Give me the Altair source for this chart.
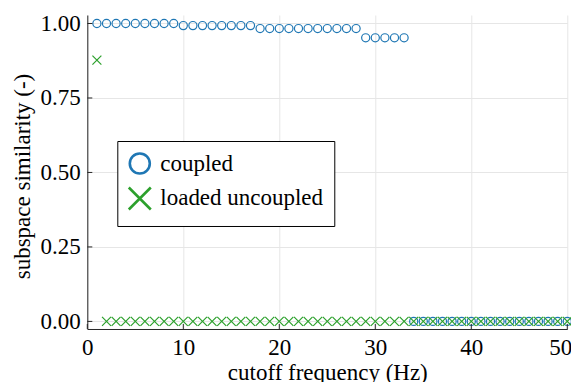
import altair as alt
import pandas as pd

series_names = ["coupled", "loaded uncoupled"]
series_colors = ["#1f77b4", "#2ca02c"]

coupled_freq = [1, 2, 3, 4, 5, 6, 7, 8, 9, 10, 11, 12, 13, 14, 15, 16, 17,
                18, 19, 20, 21, 22, 23, 24, 25, 26, 27, 28, 29, 30, 31, 32, 33,
                34, 35, 36, 37, 38, 39, 40, 41, 42, 43, 44, 45, 46, 47, 48, 49, 50]
coupled_sim = [1.000, 1.000, 1.000, 1.000, 1.000, 1.000, 1.000, 1.000, 1.000,
               0.993, 0.993, 0.993, 0.993, 0.993, 0.993, 0.993, 0.993,
               0.983, 0.983, 0.983, 0.983, 0.983, 0.983, 0.983, 0.983, 0.983, 0.983, 0.983,
               0.952, 0.952, 0.952, 0.952, 0.952,
               0.0, 0.0, 0.0, 0.0, 0.0, 0.0, 0.0, 0.0, 0.0, 0.0, 0.0, 0.0, 0.0, 0.0, 0.0, 0.0, 0.0]

uncoupled_freq = [1, 2, 3, 4, 5, 6, 7, 8, 9, 10, 11, 12, 13, 14, 15, 16, 17,
                  18, 19, 20, 21, 22, 23, 24, 25, 26, 27, 28, 29, 30, 31, 32, 33,
                  34, 35, 36, 37, 38, 39, 40, 41, 42, 43, 44, 45, 46, 47, 48, 49, 50]
uncoupled_sim = [0.877,
                 0.0, 0.0, 0.0, 0.0, 0.0, 0.0, 0.0, 0.0, 0.0, 0.0, 0.0, 0.0, 0.0, 0.0, 0.0, 0.0,
                 0.0, 0.0, 0.0, 0.0, 0.0, 0.0, 0.0, 0.0, 0.0, 0.0, 0.0, 0.0, 0.0, 0.0, 0.0, 0.0,
                 0.0, 0.0, 0.0, 0.0, 0.0, 0.0, 0.0, 0.0, 0.0, 0.0, 0.0, 0.0, 0.0, 0.0, 0.0, 0.0, 0.0]

x_ticks = [0, 10, 20, 30, 40, 50]
y_ticks = [0.0, 0.25, 0.5, 0.75, 1.0]

df = pd.concat([
    pd.DataFrame({"freq": coupled_freq, "sim": coupled_sim, "series": series_names[0]}),
    pd.DataFrame({"freq": uncoupled_freq, "sim": uncoupled_sim, "series": series_names[1]}),
], ignore_index=True)

FONT = "Liberation Serif, Times New Roman, DejaVu Serif, serif"
FS = 23
W, H = 480, 314
X_PATH = "M-1.1,-1.1L1.1,1.1M-1.1,1.1L1.1,-1.1"
DARK = "#262626"

xscale = alt.Scale(domain=[0, 50], nice=False, zero=False)
yscale = alt.Scale(domain=[-0.0255, 1.0285], nice=False, zero=False)

legend = alt.Legend(
    orient="none", legendX=30, legendY=126, title=None,
    padding=11, strokeColor="black", fillColor="white",
    symbolSize=400, symbolStrokeWidth=2.6, labelFont=FONT, labelFontSize=FS,
    labelColor="black", labelOffset=9, rowPadding=3, labelLimit=500,
)

points = alt.Chart(df).mark_point(filled=False, size=66, strokeWidth=1.2, opacity=1).encode(
    x=alt.X("freq:Q", scale=xscale, axis=alt.Axis(
        values=x_ticks, format="d", title="cutoff frequency (Hz)",
        tickSize=0, labelPadding=8, labelFlush=False, labelOverlap=False,
        labelOffset={"condition": {"test": "datum.value == 50", "value": -7}, "value": 0},
        titleY=50.7, titleBaseline="alphabetic")),
    y=alt.Y("sim:Q", scale=yscale, axis=alt.Axis(
        values=y_ticks, format=".2f", title="subspace similarity (-)",
        tickSize=0, labelPadding=7, labelFlush=False, labelOverlap=False,
        titleAngle=270, titleAlign="center", titleBaseline="alphabetic",
        titleX=-58, titleY=161)),
    color=alt.Color("series:N", scale=alt.Scale(domain=series_names, range=series_colors), legend=legend),
    shape=alt.Shape("series:N", scale=alt.Scale(domain=series_names, range=["circle", X_PATH]), legend=legend),
)

xt = alt.Chart(pd.DataFrame({"freq": x_ticks})).mark_rule(color=DARK, strokeWidth=1).encode(
    x=alt.X("freq:Q", scale=xscale), y=alt.value(H), y2=alt.value(H - 5))
yt = alt.Chart(pd.DataFrame({"sim": y_ticks})).mark_rule(color=DARK, strokeWidth=1).encode(
    y=alt.Y("sim:Q", scale=yscale), x=alt.value(0), x2=alt.value(5))

chart = alt.layer(points, xt, yt).properties(
    width=W, height=H,
    autosize=alt.AutoSizeParams(type="none"),
    padding={"left": 79.3, "top": 7, "right": 3.6, "bottom": 53},
).configure_view(stroke=None).configure_axis(
    labelFont=FONT, labelFontSize=FS, labelColor="black",
    titleFont=FONT, titleFontSize=FS, titleColor="black", titleFontWeight="normal",
    domainColor=DARK, domainWidth=1,
    gridColor="#e6e6e6", gridWidth=1, grid=True,
)

chart.save("out.html", embed_options={"renderer": "svg", "actions": False})
